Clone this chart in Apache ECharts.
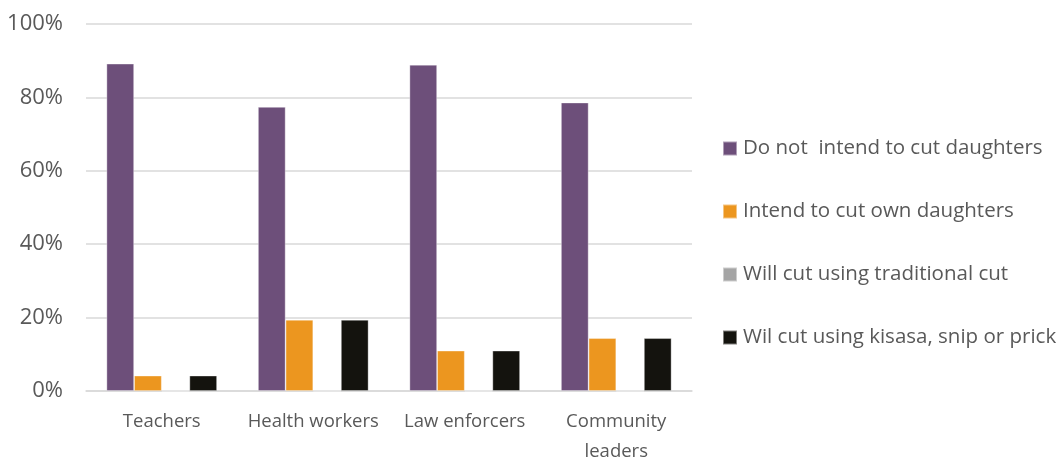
<!DOCTYPE html>
<html>
<head>
<meta charset="utf-8">
<script src="https://cdn.jsdelivr.net/npm/echarts@6/dist/echarts.min.js"></script>
<style>
  html, body { margin: 0; padding: 0; background: #fff; }
  #chart { width: 1064px; height: 459px; }
</style>
</head>
<body>
<div id="chart"></div>
<script>
// Respondent groups along the x axis
const categories = ['Teachers', 'Health workers', 'Law enforcers', 'Community\nleaders'];

// Share of each group (percent)
const doNotIntend = [89.2, 77.4, 88.9, 78.6];
const intendOwn = [4.2, 19.4, 11.0, 14.4];
const traditionalCut = [0, 0, 0, 0];
const kisasaSnipPrick = [4.2, 19.4, 11.0, 14.4];

const seriesNames = [
  'Do not  intend to cut daughters',
  'Intend to cut own daughters',
  'Will cut using traditional cut',
  'Wil cut using kisasa, snip or prick'
];
const seriesColors = ['#6D4F7A', '#EC961F', '#A5A5A5', '#14130E'];
const seriesData = [doNotIntend, intendOwn, traditionalCut, kisasaSnipPrick];

const font = '"Open Sans", Lato, sans-serif';
const textColor = '#595959';

const chart = echarts.init(document.getElementById('chart'), null, { renderer: 'canvas' });
chart.setOption({
  animation: false,
  backgroundColor: '#ffffff',
  grid: { left: 86, right: 372, top: 24, bottom: 68, containLabel: false, outerBoundsMode: 'none' },
  legend: {
    orient: 'vertical',
    left: 722,
    top: 138,
    padding: 0,
    itemWidth: 14,
    itemHeight: 14,
    itemGap: 42,
    icon: 'rect',
    textStyle: { fontFamily: font, fontSize: 20.5, color: textColor, lineHeight: 20, padding: [0, 0, 0, 1] },
    data: seriesNames
  },
  xAxis: {
    type: 'category',
    data: categories,
    axisLine: { show: true, lineStyle: { color: '#d9d9d9', width: 1.5 } },
    axisTick: { show: false },
    axisLabel: { fontFamily: font, fontSize: 18.5, color: textColor, margin: 16, lineHeight: 30, interval: 0 }
  },
  yAxis: {
    type: 'value',
    min: 0,
    max: 100,
    interval: 20,
    axisLine: { show: false },
    axisTick: { show: false },
    splitLine: { lineStyle: { color: '#d9d9d9', width: 1.5 } },
    axisLabel: { fontFamily: font, fontSize: 22, color: textColor, margin: 23, formatter: '{value}%' }
  },
  series: seriesNames.map((name, i) => ({
    name,
    type: 'bar',
    data: seriesData[i],
    barGap: '0%',
    barCategoryGap: '27%',
    itemStyle: { color: seriesColors[i], borderColor: 'rgba(255,255,255,0.45)', borderWidth: 0.8 }
  }))
});
</script>
</body>
</html>
